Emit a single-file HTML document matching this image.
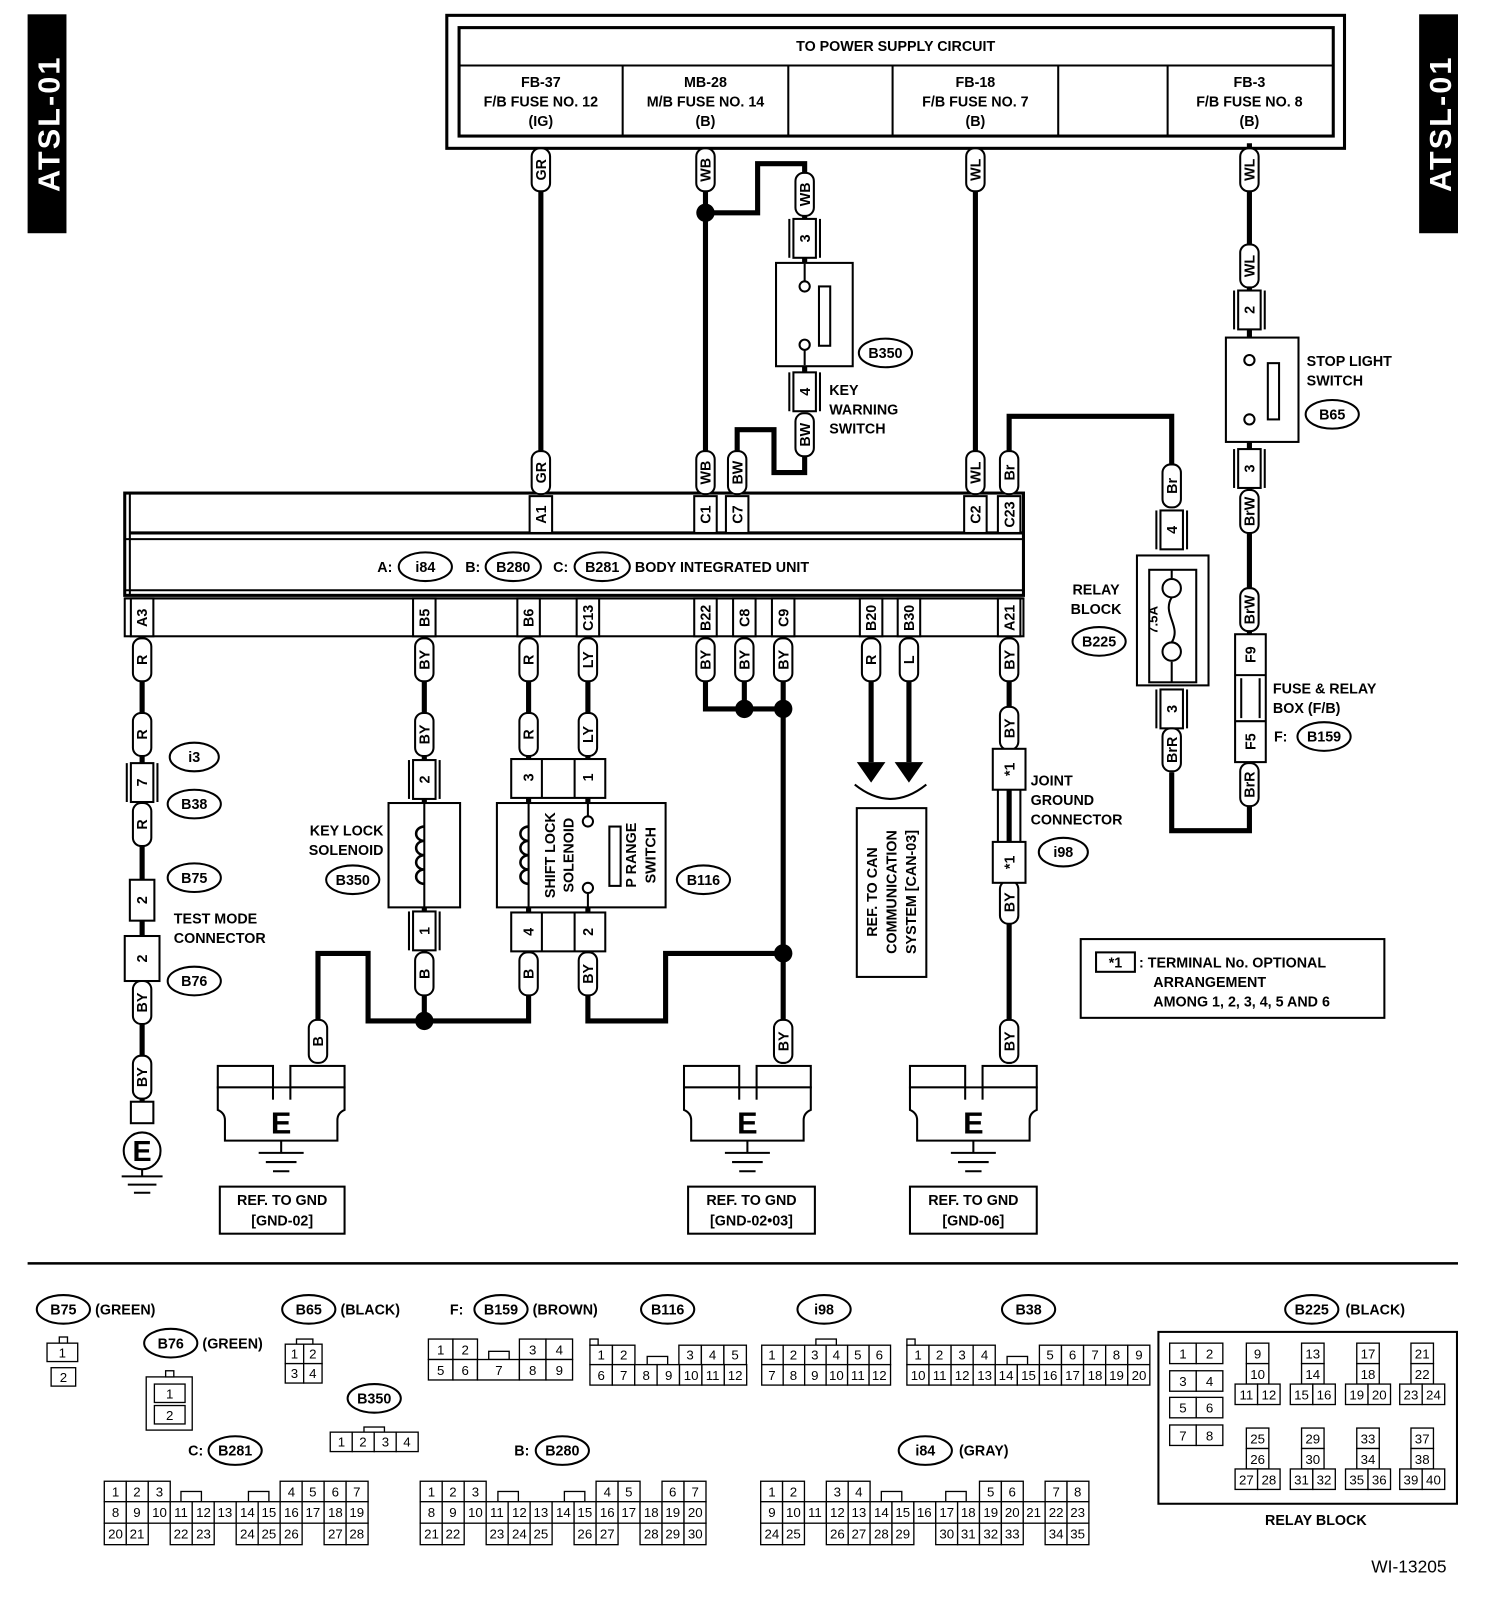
<!DOCTYPE html>
<html><head><meta charset="utf-8"><style>
html,body{margin:0;padding:0;background:#fff}
svg{display:block}
text{font-family:"Liberation Sans",sans-serif;font-weight:bold;font-size:14px;fill:#000}
.w{fill:none;stroke:#000;stroke-width:5}
.b{fill:#fff;stroke:#000;stroke-width:2}
.t{fill:#fff;stroke:#000;stroke-width:2}
.c text{font-weight:normal;font-size:13px;text-anchor:middle}
.c rect{fill:#fff;stroke:#000;stroke-width:1.3}
.m{text-anchor:middle}
</style></head><body>
<svg width="1504" height="1604" viewBox="0 0 1471 1568" preserveAspectRatio="none" xmlns="http://www.w3.org/2000/svg">
<defs>
<g id="tg"><rect class="t" x="-9" y="-21" width="18" height="42" rx="8"/></g>
<g id="pn"><rect class="b" x="-11" y="-19" width="22" height="38"/><line x1="-15" y1="-19" x2="-15" y2="19" stroke="#000" stroke-width="2"/><line x1="15" y1="-19" x2="15" y2="19" stroke="#000" stroke-width="2"/></g>
</defs>
<rect x="27" y="14" width="38" height="214" fill="#000"/>
<text transform="translate(58,121) rotate(-90)" class="m" style="fill:#fff;font-size:30px;letter-spacing:2px">ATSL-01</text>
<rect x="1388" y="14" width="38" height="214" fill="#000"/>
<text transform="translate(1419,121) rotate(-90)" class="m" style="fill:#fff;font-size:30px;letter-spacing:2px">ATSL-01</text>

<rect x="437" y="15" width="878" height="130" fill="none" stroke="#000" stroke-width="3"/>
<rect x="449" y="27" width="855" height="106" fill="none" stroke="#000" stroke-width="3"/>
<line x1="449" y1="64" x2="1304" y2="64" stroke="#000" stroke-width="2"/>
<g stroke="#000" stroke-width="2"><line x1="609" y1="64" x2="609" y2="133"/><line x1="771" y1="64" x2="771" y2="133"/><line x1="873" y1="64" x2="873" y2="133"/><line x1="1035" y1="64" x2="1035" y2="133"/><line x1="1142" y1="64" x2="1142" y2="133"/></g>
<g class="m" style="font-size:13px">
<text x="876" y="50">TO POWER SUPPLY CIRCUIT</text>
<text x="529" y="85">FB-37</text><text x="529" y="104">F/B FUSE NO. 12</text><text x="529" y="123">(IG)</text>
<text x="690" y="85">MB-28</text><text x="690" y="104">M/B FUSE NO. 14</text><text x="690" y="123">(B)</text>
<text x="954" y="85">FB-18</text><text x="954" y="104">F/B FUSE NO. 7</text><text x="954" y="123">(B)</text>
<text x="1222" y="85">FB-3</text><text x="1222" y="104">F/B FUSE NO. 8</text><text x="1222" y="123">(B)</text>
</g>

<g class="w">
<path d="M529 145V485"/><path d="M690 145V485"/><path d="M690 208H741V160H787V215"/>
<path d="M787 250V260M787 358V365"/><path d="M787 445V462H757V420H721V442"/>
<path d="M954 145V485"/><path d="M987 442V407H1146V455"/>
<path d="M1146 755V812H1222V140"/>
<path d="M139 620V860M139 900V915M139 958V1077"/>
<path d="M415 620V998"/><path d="M311 1000V932H360V998H517V620"/>
<path d="M575 620V998H651V932H766"/>
<path d="M690 620V693H766"/><path d="M728 620V693"/><path d="M766 620V1040"/>
<path d="M852 620V745"/><path d="M889 620V745"/>
<path d="M987 620V1040"/>
</g>
<g fill="#000"><circle cx="690" cy="208" r="9"/><circle cx="415" cy="998" r="9"/><circle cx="728" cy="693" r="9"/><circle cx="766" cy="693" r="9"/><circle cx="766" cy="932" r="9"/>
<path d="M838 745h28l-14 20z"/><path d="M875 745h28l-14 20z"/></g>
<path d="M836 767Q871 795 906 767" fill="none" stroke="#000" stroke-width="2"/>

<rect class="b" x="759" y="257" width="75" height="101"/>
<circle cx="787" cy="280" r="5" class="b"/><circle cx="787" cy="337" r="5" class="b"/>
<rect class="b" x="801" y="280" width="11" height="58"/>
<line x1="787" y1="258" x2="787" y2="275" stroke="#000" stroke-width="2"/><line x1="787" y1="342" x2="787" y2="357" stroke="#000" stroke-width="2"/>
<rect class="b" x="1199" y="330" width="71" height="102"/>
<circle cx="1222" cy="352" r="5" class="b"/><circle cx="1222" cy="410" r="5" class="b"/>
<rect class="b" x="1240" y="355" width="11" height="55"/>
<rect class="b" x="1112" y="543" width="70" height="127"/>
<rect class="b" x="1124" y="557" width="46" height="110"/>
<path d="M1146 557V565M1146 647V667" stroke="#000" stroke-width="2"/>
<circle cx="1146" cy="575" r="9" class="b"/><circle cx="1146" cy="637" r="9" class="b"/>
<path d="M1146 584C1136 600 1156 612 1146 628" fill="none" stroke="#000" stroke-width="2"/>
<text transform="translate(1132,606) rotate(-90)" class="m" style="font-size:13px">7.5A</text>
<rect class="b" x="1208" y="620" width="30" height="125"/>
<line x1="1208" y1="660" x2="1238" y2="660" stroke="#000" stroke-width="2"/><line x1="1208" y1="705" x2="1238" y2="705" stroke="#000" stroke-width="2"/>
<line x1="1214" y1="663" x2="1214" y2="702" stroke="#000" stroke-width="2"/><line x1="1232" y1="663" x2="1232" y2="702" stroke="#000" stroke-width="2"/>
<g transform="translate(1223,640)"><text transform="rotate(-90)" class="m" y="5">F9</text></g>
<g transform="translate(1223,725)"><text transform="rotate(-90)" class="m" y="5">F5</text></g>

<rect x="122" y="482" width="879" height="100" fill="#fff" stroke="#000" stroke-width="3"/>
<line x1="127" y1="482" x2="127" y2="582" stroke="#000" stroke-width="2"/>
<line x1="127" y1="521" x2="1001" y2="521" stroke="#000" stroke-width="3"/>
<line x1="122" y1="527" x2="1001" y2="527" stroke="#000" stroke-width="2"/>
<line x1="122" y1="577" x2="1001" y2="577" stroke="#000" stroke-width="2"/>
<line x1="122" y1="585" x2="1001" y2="585" stroke="#000" stroke-width="2"/>
<rect x="122" y="585" width="879" height="37" fill="none" stroke="#000" stroke-width="2"/>
<text x="369" y="559">A:</text><ellipse class="b" cx="416" cy="554" rx="26" ry="14"/><text x="416" y="559" class="m">i84</text>
<text x="455" y="559">B:</text><ellipse class="b" cx="502" cy="554" rx="27" ry="14"/><text x="502" y="559" class="m">B280</text>
<text x="541" y="559">C:</text><ellipse class="b" cx="589" cy="554" rx="27" ry="14"/><text x="589" y="559" class="m">B281</text>
<text x="621" y="559">BODY INTEGRATED UNIT</text>

<g>
<g transform="translate(529,503)"><rect class="b" x="-11" y="-18" width="22" height="36"/><text transform="rotate(-90)" class="m" y="5">A1</text></g>
<g transform="translate(690,503)"><rect class="b" x="-11" y="-18" width="22" height="36"/><text transform="rotate(-90)" class="m" y="5">C1</text></g>
<g transform="translate(721,503)"><rect class="b" x="-11" y="-18" width="22" height="36"/><text transform="rotate(-90)" class="m" y="5">C7</text></g>
<g transform="translate(954,503)"><rect class="b" x="-11" y="-18" width="22" height="36"/><text transform="rotate(-90)" class="m" y="5">C2</text></g>
<g transform="translate(987,503)"><rect class="b" x="-11" y="-18" width="22" height="36"/><text transform="rotate(-90)" class="m" y="5">C23</text></g>
</g>
<g>
<g transform="translate(139,604)"><rect class="b" x="-11" y="-19" width="22" height="37"/><text transform="rotate(-90)" class="m" y="5">A3</text></g>
<g transform="translate(415,604)"><rect class="b" x="-11" y="-19" width="22" height="37"/><text transform="rotate(-90)" class="m" y="5">B5</text></g>
<g transform="translate(517,604)"><rect class="b" x="-11" y="-19" width="22" height="37"/><text transform="rotate(-90)" class="m" y="5">B6</text></g>
<g transform="translate(575,604)"><rect class="b" x="-11" y="-19" width="22" height="37"/><text transform="rotate(-90)" class="m" y="5">C13</text></g>
<g transform="translate(690,604)"><rect class="b" x="-11" y="-19" width="22" height="37"/><text transform="rotate(-90)" class="m" y="5">B22</text></g>
<g transform="translate(728,604)"><rect class="b" x="-11" y="-19" width="22" height="37"/><text transform="rotate(-90)" class="m" y="5">C8</text></g>
<g transform="translate(766,604)"><rect class="b" x="-11" y="-19" width="22" height="37"/><text transform="rotate(-90)" class="m" y="5">C9</text></g>
<g transform="translate(852,604)"><rect class="b" x="-11" y="-19" width="22" height="37"/><text transform="rotate(-90)" class="m" y="5">B20</text></g>
<g transform="translate(889,604)"><rect class="b" x="-11" y="-19" width="22" height="37"/><text transform="rotate(-90)" class="m" y="5">B30</text></g>
<g transform="translate(987,604)"><rect class="b" x="-11" y="-19" width="22" height="37"/><text transform="rotate(-90)" class="m" y="5">A21</text></g>
</g>

<g>
<g transform="translate(529,166)"><use href="#tg"/><text transform="rotate(-90)" class="m" y="5">GR</text></g>
<g transform="translate(690,166)"><use href="#tg"/><text transform="rotate(-90)" class="m" y="5">WB</text></g>
<g transform="translate(954,166)"><use href="#tg"/><text transform="rotate(-90)" class="m" y="5">WL</text></g>
<g transform="translate(1222,166)"><use href="#tg"/><text transform="rotate(-90)" class="m" y="5">WL</text></g>
<g transform="translate(529,462)"><use href="#tg"/><text transform="rotate(-90)" class="m" y="5">GR</text></g>
<g transform="translate(690,462)"><use href="#tg"/><text transform="rotate(-90)" class="m" y="5">WB</text></g>
<g transform="translate(721,462)"><use href="#tg"/><text transform="rotate(-90)" class="m" y="5">BW</text></g>
<g transform="translate(954,462)"><use href="#tg"/><text transform="rotate(-90)" class="m" y="5">WL</text></g>
<g transform="translate(987,462)"><use href="#tg"/><text transform="rotate(-90)" class="m" y="5">Br</text></g>
<g transform="translate(787,190)"><use href="#tg"/><text transform="rotate(-90)" class="m" y="5">WB</text></g>
<g transform="translate(787,233)"><use href="#pn"/><text transform="rotate(-90)" class="m" y="5">3</text></g>
<g transform="translate(787,383)"><use href="#pn"/><text transform="rotate(-90)" class="m" y="5">4</text></g>
<g transform="translate(787,425)"><use href="#tg"/><text transform="rotate(-90)" class="m" y="5">BW</text></g>
<g transform="translate(1222,260)"><use href="#tg"/><text transform="rotate(-90)" class="m" y="5">WL</text></g>
<g transform="translate(1222,303)"><use href="#pn"/><text transform="rotate(-90)" class="m" y="5">2</text></g>
<g transform="translate(1222,458)"><use href="#pn"/><text transform="rotate(-90)" class="m" y="5">3</text></g>
<g transform="translate(1222,500)"><use href="#tg"/><text transform="rotate(-90)" class="m" y="5">BrW</text></g>
<g transform="translate(1222,596)"><use href="#tg"/><text transform="rotate(-90)" class="m" y="5">BrW</text></g>
<g transform="translate(1222,767)"><use href="#tg"/><text transform="rotate(-90)" class="m" y="5">BrR</text></g>
<g transform="translate(1146,475)"><use href="#tg"/><text transform="rotate(-90)" class="m" y="5">Br</text></g>
<g transform="translate(1146,518)"><use href="#pn"/><text transform="rotate(-90)" class="m" y="5">4</text></g>
<g transform="translate(1146,693)"><use href="#pn"/><text transform="rotate(-90)" class="m" y="5">3</text></g>
<g transform="translate(1146,733)"><use href="#tg"/><text transform="rotate(-90)" class="m" y="5">BrR</text></g>

<g transform="translate(139,645)"><use href="#tg"/><text transform="rotate(-90)" class="m" y="5">R</text></g>
<g transform="translate(415,645)"><use href="#tg"/><text transform="rotate(-90)" class="m" y="5">BY</text></g>
<g transform="translate(517,645)"><use href="#tg"/><text transform="rotate(-90)" class="m" y="5">R</text></g>
<g transform="translate(575,645)"><use href="#tg"/><text transform="rotate(-90)" class="m" y="5">LY</text></g>
<g transform="translate(690,645)"><use href="#tg"/><text transform="rotate(-90)" class="m" y="5">BY</text></g>
<g transform="translate(728,645)"><use href="#tg"/><text transform="rotate(-90)" class="m" y="5">BY</text></g>
<g transform="translate(766,645)"><use href="#tg"/><text transform="rotate(-90)" class="m" y="5">BY</text></g>
<g transform="translate(852,645)"><use href="#tg"/><text transform="rotate(-90)" class="m" y="5">R</text></g>
<g transform="translate(889,645)"><use href="#tg"/><text transform="rotate(-90)" class="m" y="5">L</text></g>
<g transform="translate(987,645)"><use href="#tg"/><text transform="rotate(-90)" class="m" y="5">BY</text></g>

<g transform="translate(139,718)"><use href="#tg"/><text transform="rotate(-90)" class="m" y="5">R</text></g>
<g transform="translate(139,765)"><use href="#pn"/><text transform="rotate(-90)" class="m" y="5">7</text></g>
<g transform="translate(139,806)"><use href="#tg"/><text transform="rotate(-90)" class="m" y="5">R</text></g>
<g transform="translate(139,880)"><rect class="b" x="-12" y="-20" width="24" height="40"/><text transform="rotate(-90)" class="m" y="5">2</text></g>
<g transform="translate(139,937)"><rect class="b" x="-17" y="-22" width="34" height="44"/><text transform="rotate(-90)" class="m" y="5">2</text></g>
<g transform="translate(139,980)"><use href="#tg"/><text transform="rotate(-90)" class="m" y="5">BY</text></g>
<g transform="translate(139,1053)"><use href="#tg"/><text transform="rotate(-90)" class="m" y="5">BY</text></g>
<rect class="b" x="128" y="1077" width="22" height="21"/>
<circle cx="139" cy="1125" r="18" class="b" stroke-width="3"/><text x="139" y="1135" class="m" style="font-size:28px">E</text>
<g stroke="#000" stroke-width="2"><line x1="139" y1="1143" x2="139" y2="1150"/><line x1="119" y1="1150" x2="159" y2="1150"/><line x1="125" y1="1158" x2="153" y2="1158"/><line x1="131" y1="1166" x2="147" y2="1166"/></g>

<g transform="translate(415,718)"><use href="#tg"/><text transform="rotate(-90)" class="m" y="5">BY</text></g>
<g transform="translate(415,762)"><use href="#pn"/><text transform="rotate(-90)" class="m" y="5">2</text></g>
<g transform="translate(415,910)"><use href="#pn"/><text transform="rotate(-90)" class="m" y="5">1</text></g>
<g transform="translate(415,952)"><use href="#tg"/><text transform="rotate(-90)" class="m" y="5">B</text></g>
<g transform="translate(517,718)"><use href="#tg"/><text transform="rotate(-90)" class="m" y="5">R</text></g>
<g transform="translate(575,718)"><use href="#tg"/><text transform="rotate(-90)" class="m" y="5">LY</text></g>
<rect class="b" x="500" y="742" width="92" height="38"/><line x1="530" y1="742" x2="530" y2="780" stroke="#000" stroke-width="2"/><line x1="562" y1="742" x2="562" y2="780" stroke="#000" stroke-width="2"/>
<text transform="translate(522,760) rotate(-90)" class="m">3</text><text transform="translate(580,760) rotate(-90)" class="m">1</text>
<rect class="b" x="500" y="892" width="92" height="38"/><line x1="530" y1="892" x2="530" y2="930" stroke="#000" stroke-width="2"/><line x1="562" y1="892" x2="562" y2="930" stroke="#000" stroke-width="2"/>
<text transform="translate(522,911) rotate(-90)" class="m">4</text><text transform="translate(580,911) rotate(-90)" class="m">2</text>
<g transform="translate(517,952)"><use href="#tg"/><text transform="rotate(-90)" class="m" y="5">B</text></g>
<g transform="translate(575,952)"><use href="#tg"/><text transform="rotate(-90)" class="m" y="5">BY</text></g>
<g transform="translate(311,1018)"><use href="#tg"/><text transform="rotate(-90)" class="m" y="5">B</text></g>
<g transform="translate(766,1018)"><use href="#tg"/><text transform="rotate(-90)" class="m" y="5">BY</text></g>
<g transform="translate(987,1018)"><use href="#tg"/><text transform="rotate(-90)" class="m" y="5">BY</text></g>
<g transform="translate(987,712)"><use href="#tg"/><text transform="rotate(-90)" class="m" y="5">BY</text></g>
<g transform="translate(987,882)"><use href="#tg"/><text transform="rotate(-90)" class="m" y="5">BY</text></g>
<rect class="b" x="971" y="732" width="32" height="40"/><text transform="translate(992,752) rotate(-90)" class="m">*1</text>
<rect class="b" x="971" y="823" width="32" height="40"/><text transform="translate(992,843) rotate(-90)" class="m">*1</text>
<line x1="976" y1="772" x2="976" y2="823" stroke="#000" stroke-width="2"/><line x1="998" y1="772" x2="998" y2="823" stroke="#000" stroke-width="2"/>
</g>

<rect class="b" x="380" y="785" width="70" height="102"/>
<line x1="415" y1="785" x2="415" y2="887" stroke="#000" stroke-width="2"/>
<g fill="none" stroke="#000" stroke-width="2.5"><path d="M415 808a8 7 0 1 0 0 14a8 7 0 1 0 0 14a8 7 0 1 0 0 14a8 7 0 1 0 0 14"/></g>
<rect class="b" x="486" y="785" width="165" height="102"/>
<line x1="517" y1="785" x2="517" y2="887" stroke="#000" stroke-width="2"/>
<g fill="none" stroke="#000" stroke-width="2.5"><path d="M517 808a8 7 0 1 0 0 14a8 7 0 1 0 0 14a8 7 0 1 0 0 14a8 7 0 1 0 0 14"/></g>
<line x1="575" y1="785" x2="575" y2="798" stroke="#000" stroke-width="2"/><line x1="575" y1="873" x2="575" y2="887" stroke="#000" stroke-width="2"/>
<circle cx="575" cy="803" r="5" class="b"/><circle cx="575" cy="868" r="5" class="b"/>
<rect class="b" x="596" y="808" width="11" height="58"/>
<g style="font-size:13px"><text transform="translate(543,836) rotate(-90)" class="m">SHIFT LOCK</text><text transform="translate(561,836) rotate(-90)" class="m">SOLENOID</text>
<text transform="translate(622,836) rotate(-90)" class="m">P RANGE</text><text transform="translate(641,836) rotate(-90)" class="m">SWITCH</text></g>

<g id="gnd">
<rect class="b" x="213" y="1042" width="54" height="21"/><rect class="b" x="284" y="1042" width="53" height="21"/>
<path d="M213 1063H337V1085Q330 1088 330 1095V1115H220V1095Q220 1088 213 1085Z" class="b" stroke-width="2.5"/>
<line x1="267" y1="1063" x2="267" y2="1075" stroke="#000" stroke-width="2"/><line x1="284" y1="1063" x2="284" y2="1075" stroke="#000" stroke-width="2"/>
<text x="275" y="1108" class="m" style="font-size:30px">E</text>
<g stroke="#000" stroke-width="2"><line x1="275" y1="1115" x2="275" y2="1127"/><line x1="253" y1="1127" x2="297" y2="1127"/><line x1="260" y1="1136" x2="290" y2="1136"/><line x1="267" y1="1145" x2="283" y2="1145"/></g>
</g>
<use href="#gnd" x="456" y="0"/>
<use href="#gnd" x="677" y="0"/>
<g class="b"><rect x="215" y="1160" width="122" height="46"/><rect x="673" y="1160" width="124" height="46"/><rect x="890" y="1160" width="124" height="46"/></g>
<g class="m" style="font-size:13px">
<text x="276" y="1178">REF. TO GND</text><text x="276" y="1198">[GND-02]</text>
<text x="735" y="1178">REF. TO GND</text><text x="735" y="1198">[GND-02•03]</text>
<text x="952" y="1178">REF. TO GND</text><text x="952" y="1198">[GND-06]</text>
</g>

<rect class="b" x="838" y="790" width="68" height="165"/>
<g class="m" style="font-size:13px"><text transform="translate(858,872) rotate(-90)">REF. TO CAN</text><text transform="translate(877,872) rotate(-90)">COMMUNICATION</text><text transform="translate(896,872) rotate(-90)">SYSTEM [CAN-03]</text></g>

<rect class="b" x="1057" y="918" width="297" height="77"/>
<rect class="b" x="1072" y="931" width="38" height="19"/><text x="1091" y="946" class="m">*1</text>
<g style="font-size:13.5px"><text x="1114" y="946">: TERMINAL No. OPTIONAL</text><text x="1128" y="965">ARRANGEMENT</text><text x="1128" y="984">AMONG 1, 2, 3, 4, 5 AND 6</text></g>

<g style="font-size:14px">
<text x="811" y="386">KEY</text><text x="811" y="405">WARNING</text><text x="811" y="424">SWITCH</text>
<text x="1278" y="358">STOP LIGHT</text><text x="1278" y="377">SWITCH</text>
<text x="1072" y="581" class="m">RELAY</text><text x="1072" y="600" class="m">BLOCK</text>
<text x="1245" y="678">FUSE &amp; RELAY</text><text x="1245" y="697">BOX (F/B)</text><text x="1246" y="725">F:</text>
<text x="375" y="817" style="text-anchor:end">KEY LOCK</text><text x="375" y="836" style="text-anchor:end">SOLENOID</text>
<text x="170" y="903">TEST MODE</text><text x="170" y="922">CONNECTOR</text>
<text x="1008" y="768">JOINT</text><text x="1008" y="787">GROUND</text><text x="1008" y="806">CONNECTOR</text>
</g>
<g>
<ellipse class="b" cx="866" cy="345" rx="26" ry="14"/><text x="866" y="350" class="m">B350</text>
<ellipse class="b" cx="1303" cy="405" rx="26" ry="14"/><text x="1303" y="410" class="m">B65</text>
<ellipse class="b" cx="1075" cy="627" rx="26" ry="14"/><text x="1075" y="632" class="m">B225</text>
<ellipse class="b" cx="1295" cy="720" rx="26" ry="14"/><text x="1295" y="725" class="m">B159</text>
<ellipse class="b" cx="345" cy="860" rx="26" ry="14"/><text x="345" y="865" class="m">B350</text>
<ellipse class="b" cx="688" cy="860" rx="26" ry="14"/><text x="688" y="865" class="m">B116</text>
<ellipse class="b" cx="1040" cy="833" rx="24" ry="14"/><text x="1040" y="838" class="m">i98</text>
<ellipse class="b" cx="190" cy="740" rx="24" ry="14"/><text x="190" y="745" class="m">i3</text>
<ellipse class="b" cx="190" cy="786" rx="26" ry="14"/><text x="190" y="791" class="m">B38</text>
<ellipse class="b" cx="190" cy="858" rx="26" ry="14"/><text x="190" y="863" class="m">B75</text>
<ellipse class="b" cx="190" cy="959" rx="26" ry="14"/><text x="190" y="964" class="m">B76</text>
</g>

<line x1="27" y1="1235" x2="1426" y2="1235" stroke="#000" stroke-width="2.5"/>

<g>
<ellipse class="b" cx="62" cy="1280" rx="26" ry="14"/><text x="62" y="1285" class="m">B75</text><text x="93" y="1285">(GREEN)</text>
<ellipse class="b" cx="167" cy="1313" rx="26" ry="14"/><text x="167" y="1318" class="m">B76</text><text x="198" y="1318">(GREEN)</text>
<ellipse class="b" cx="302" cy="1280" rx="26" ry="14"/><text x="302" y="1285" class="m">B65</text><text x="333" y="1285">(BLACK)</text>
<text x="440" y="1285">F:</text><ellipse class="b" cx="490" cy="1280" rx="26" ry="14"/><text x="490" y="1285" class="m">B159</text><text x="521" y="1285">(BROWN)</text>
<ellipse class="b" cx="653" cy="1280" rx="26" ry="14"/><text x="653" y="1285" class="m">B116</text>
<ellipse class="b" cx="806" cy="1280" rx="26" ry="14"/><text x="806" y="1285" class="m">i98</text>
<ellipse class="b" cx="1006" cy="1280" rx="26" ry="14"/><text x="1006" y="1285" class="m">B38</text>
<ellipse class="b" cx="1283" cy="1280" rx="26" ry="14"/><text x="1283" y="1285" class="m">B225</text><text x="1316" y="1285">(BLACK)</text>
<ellipse class="b" cx="366" cy="1367" rx="26" ry="14"/><text x="366" y="1372" class="m">B350</text>
<text x="184" y="1423">C:</text><ellipse class="b" cx="230" cy="1418" rx="26" ry="14"/><text x="230" y="1423" class="m">B281</text>
<text x="503" y="1423">B:</text><ellipse class="b" cx="550" cy="1418" rx="26" ry="14"/><text x="550" y="1423" class="m">B280</text>
<ellipse class="b" cx="905" cy="1418" rx="26" ry="14"/><text x="905" y="1423" class="m">i84</text><text x="938" y="1423">(GRAY)</text>
<text x="1287" y="1491" class="m">RELAY BLOCK</text>
<text x="1378" y="1537" class="m" style="font-weight:normal;font-size:17px">WI-13205</text>
</g>

<g class="c">
<rect x="58" y="1307" width="8" height="6"/>
<rect x="46" y="1313" width="30" height="18"/><text x="61" y="1327">1</text>
<rect x="50" y="1337" width="24" height="18"/><text x="62" y="1351">2</text>
<rect x="143" y="1346" width="45" height="52"/><rect x="162" y="1340" width="8" height="6"/>
<rect x="151" y="1353" width="30" height="18"/><text x="166" y="1367">1</text>
<rect x="151" y="1374" width="30" height="18"/><text x="166" y="1388">2</text>
<rect x="290" y="1309" width="16" height="5"/>
<rect x="279" y="1314" width="18" height="19"/><text x="288" y="1328">1</text><rect x="297" y="1314" width="18" height="19"/><text x="306" y="1328">2</text>
<rect x="279" y="1333" width="18" height="19"/><text x="288" y="1347">3</text><rect x="297" y="1333" width="18" height="19"/><text x="306" y="1347">4</text>
<rect x="356" y="1395" width="20" height="5"/>
<rect x="323" y="1400" width="21.5" height="19"/><text x="334" y="1414">1</text><rect x="344.5" y="1400" width="21.5" height="19"/><text x="355" y="1414">2</text><rect x="366" y="1400" width="21.5" height="19"/><text x="377" y="1414">3</text><rect x="387.5" y="1400" width="21.5" height="19"/><text x="398" y="1414">4</text>
<rect x="419" y="1309" width="24" height="20"/><text x="431" y="1324">1</text><rect x="443" y="1309" width="24" height="20"/><text x="455" y="1324">2</text>
<rect x="478" y="1321" width="20" height="8"/>
<rect x="508" y="1309" width="26" height="20"/><text x="521" y="1324">3</text><rect x="534" y="1309" width="26" height="20"/><text x="547" y="1324">4</text>
<rect x="419" y="1329" width="24" height="20"/><text x="431" y="1344">5</text><rect x="443" y="1329" width="24" height="20"/><text x="455" y="1344">6</text><rect x="467" y="1329" width="41" height="20"/><text x="488" y="1344">7</text><rect x="508" y="1329" width="26" height="20"/><text x="521" y="1344">8</text><rect x="534" y="1329" width="26" height="20"/><text x="547" y="1344">9</text>
<rect x="577" y="1309" width="8" height="6"/>
<rect x="577" y="1315" width="22" height="19"/><text x="588" y="1329">1</text><rect x="599" y="1315" width="22" height="19"/><text x="610" y="1329">2</text>
<rect x="633" y="1326" width="20" height="8"/>
<rect x="664" y="1315" width="22" height="19"/><text x="675" y="1329">3</text><rect x="686" y="1315" width="22" height="19"/><text x="697" y="1329">4</text><rect x="708" y="1315" width="22" height="19"/><text x="719" y="1329">5</text>
<rect x="577" y="1334" width="21.9" height="20"/><text x="588" y="1349">6</text><rect x="598.9" y="1334" width="21.9" height="20"/><text x="610" y="1349">7</text><rect x="620.8" y="1334" width="21.9" height="20"/><text x="632" y="1349">8</text><rect x="642.7" y="1334" width="21.9" height="20"/><text x="654" y="1349">9</text><rect x="664.6" y="1334" width="21.9" height="20"/><text x="676" y="1349">10</text><rect x="686.5" y="1334" width="21.9" height="20"/><text x="697" y="1349">11</text><rect x="708.4" y="1334" width="21.9" height="20"/><text x="719" y="1349">12</text>
<rect x="798" y="1309" width="20" height="6"/>
<rect x="745" y="1315" width="21" height="19"/><text x="755" y="1329">1</text><rect x="766" y="1315" width="21" height="19"/><text x="776" y="1329">2</text><rect x="787" y="1315" width="21" height="19"/><text x="797" y="1329">3</text><rect x="808" y="1315" width="21" height="19"/><text x="818" y="1329">4</text><rect x="829" y="1315" width="21" height="19"/><text x="839" y="1329">5</text><rect x="850" y="1315" width="21" height="19"/><text x="860" y="1329">6</text>
<rect x="745" y="1334" width="21" height="20"/><text x="755" y="1349">7</text><rect x="766" y="1334" width="21" height="20"/><text x="776" y="1349">8</text><rect x="787" y="1334" width="21" height="20"/><text x="797" y="1349">9</text><rect x="808" y="1334" width="21" height="20"/><text x="818" y="1349">10</text><rect x="829" y="1334" width="21" height="20"/><text x="839" y="1349">11</text><rect x="850" y="1334" width="21" height="20"/><text x="860" y="1349">12</text>
<rect x="887" y="1309" width="8" height="6"/>
<rect x="887" y="1315" width="21.6" height="19"/><text x="898" y="1329">1</text><rect x="908.6" y="1315" width="21.6" height="19"/><text x="919" y="1329">2</text><rect x="930.2" y="1315" width="21.6" height="19"/><text x="941" y="1329">3</text><rect x="951.8" y="1315" width="21.6" height="19"/><text x="963" y="1329">4</text>
<rect x="985" y="1326" width="20" height="8"/>
<rect x="1016.6" y="1315" width="21.6" height="19"/><text x="1027" y="1329">5</text><rect x="1038.2" y="1315" width="21.6" height="19"/><text x="1049" y="1329">6</text><rect x="1059.8" y="1315" width="21.6" height="19"/><text x="1071" y="1329">7</text><rect x="1081.4" y="1315" width="21.6" height="19"/><text x="1092" y="1329">8</text><rect x="1103" y="1315" width="21.6" height="19"/><text x="1114" y="1329">9</text>
<rect x="887" y="1334" width="21.6" height="20"/><text x="898" y="1349">10</text><rect x="908.6" y="1334" width="21.6" height="20"/><text x="919" y="1349">11</text><rect x="930.2" y="1334" width="21.6" height="20"/><text x="941" y="1349">12</text><rect x="951.8" y="1334" width="21.6" height="20"/><text x="963" y="1349">13</text><rect x="973.4" y="1334" width="21.6" height="20"/><text x="984" y="1349">14</text><rect x="995" y="1334" width="21.6" height="20"/><text x="1006" y="1349">15</text><rect x="1016.6" y="1334" width="21.6" height="20"/><text x="1027" y="1349">16</text><rect x="1038.2" y="1334" width="21.6" height="20"/><text x="1049" y="1349">17</text><rect x="1059.8" y="1334" width="21.6" height="20"/><text x="1071" y="1349">18</text><rect x="1081.4" y="1334" width="21.6" height="20"/><text x="1092" y="1349">19</text><rect x="1103" y="1334" width="21.6" height="20"/><text x="1114" y="1349">20</text>

<rect x="1133" y="1302" width="292" height="168" style="stroke-width:2"/>
<rect x="1144" y="1313" width="26" height="20"/><text x="1157" y="1328">1</text><rect x="1170" y="1313" width="26" height="20"/><text x="1183" y="1328">2</text>
<rect x="1144" y="1340" width="26" height="20"/><text x="1157" y="1355">3</text><rect x="1170" y="1340" width="26" height="20"/><text x="1183" y="1355">4</text>
<rect x="1144" y="1366" width="26" height="20"/><text x="1157" y="1381">5</text><rect x="1170" y="1366" width="26" height="20"/><text x="1183" y="1381">6</text>
<rect x="1144" y="1393" width="26" height="20"/><text x="1157" y="1408">7</text><rect x="1170" y="1393" width="26" height="20"/><text x="1183" y="1408">8</text>
<rect x="1219" y="1313" width="22" height="20"/><text x="1230" y="1328">9</text><rect x="1219" y="1333" width="22" height="20"/><text x="1230" y="1348">10</text><rect x="1208" y="1353" width="22" height="20"/><text x="1219" y="1368">11</text><rect x="1230" y="1353" width="22" height="20"/><text x="1241" y="1368">12</text>
<rect x="1273" y="1313" width="22" height="20"/><text x="1284" y="1328">13</text><rect x="1273" y="1333" width="22" height="20"/><text x="1284" y="1348">14</text><rect x="1262" y="1353" width="22" height="20"/><text x="1273" y="1368">15</text><rect x="1284" y="1353" width="22" height="20"/><text x="1295" y="1368">16</text>
<rect x="1327" y="1313" width="22" height="20"/><text x="1338" y="1328">17</text><rect x="1327" y="1333" width="22" height="20"/><text x="1338" y="1348">18</text><rect x="1316" y="1353" width="22" height="20"/><text x="1327" y="1368">19</text><rect x="1338" y="1353" width="22" height="20"/><text x="1349" y="1368">20</text>
<rect x="1380" y="1313" width="22" height="20"/><text x="1391" y="1328">21</text><rect x="1380" y="1333" width="22" height="20"/><text x="1391" y="1348">22</text><rect x="1369" y="1353" width="22" height="20"/><text x="1380" y="1368">23</text><rect x="1391" y="1353" width="22" height="20"/><text x="1402" y="1368">24</text>
<rect x="1219" y="1396" width="22" height="20"/><text x="1230" y="1411">25</text><rect x="1219" y="1416" width="22" height="20"/><text x="1230" y="1431">26</text><rect x="1208" y="1436" width="22" height="20"/><text x="1219" y="1451">27</text><rect x="1230" y="1436" width="22" height="20"/><text x="1241" y="1451">28</text>
<rect x="1273" y="1396" width="22" height="20"/><text x="1284" y="1411">29</text><rect x="1273" y="1416" width="22" height="20"/><text x="1284" y="1431">30</text><rect x="1262" y="1436" width="22" height="20"/><text x="1273" y="1451">31</text><rect x="1284" y="1436" width="22" height="20"/><text x="1295" y="1451">32</text>
<rect x="1327" y="1396" width="22" height="20"/><text x="1338" y="1411">33</text><rect x="1327" y="1416" width="22" height="20"/><text x="1338" y="1431">34</text><rect x="1316" y="1436" width="22" height="20"/><text x="1327" y="1451">35</text><rect x="1338" y="1436" width="22" height="20"/><text x="1349" y="1451">36</text>
<rect x="1380" y="1396" width="22" height="20"/><text x="1391" y="1411">37</text><rect x="1380" y="1416" width="22" height="20"/><text x="1391" y="1431">38</text><rect x="1369" y="1436" width="22" height="20"/><text x="1380" y="1451">39</text><rect x="1391" y="1436" width="22" height="20"/><text x="1402" y="1451">40</text>

<rect x="102" y="1448" width="21.5" height="20"/><text x="113" y="1463">1</text><rect x="123.5" y="1448" width="21.5" height="20"/><text x="134" y="1463">2</text><rect x="145" y="1448" width="21.5" height="20"/><text x="156" y="1463">3</text>
<rect x="177" y="1458" width="20" height="10"/><rect x="243" y="1458" width="20" height="10"/>
<rect x="274" y="1448" width="21.5" height="20"/><text x="285" y="1463">4</text><rect x="295.5" y="1448" width="21.5" height="20"/><text x="306" y="1463">5</text><rect x="317" y="1448" width="21.5" height="20"/><text x="328" y="1463">6</text><rect x="338.5" y="1448" width="21.5" height="20"/><text x="349" y="1463">7</text>
<rect x="102" y="1468" width="21.5" height="21"/><text x="113" y="1483">8</text><rect x="123.5" y="1468" width="21.5" height="21"/><text x="134" y="1483">9</text><rect x="145" y="1468" width="21.5" height="21"/><text x="156" y="1483">10</text><rect x="166.5" y="1468" width="21.5" height="21"/><text x="177" y="1483">11</text><rect x="188" y="1468" width="21.5" height="21"/><text x="199" y="1483">12</text><rect x="209.5" y="1468" width="21.5" height="21"/><text x="220" y="1483">13</text><rect x="231" y="1468" width="21.5" height="21"/><text x="242" y="1483">14</text><rect x="252.5" y="1468" width="21.5" height="21"/><text x="263" y="1483">15</text><rect x="274" y="1468" width="21.5" height="21"/><text x="285" y="1483">16</text><rect x="295.5" y="1468" width="21.5" height="21"/><text x="306" y="1483">17</text><rect x="317" y="1468" width="21.5" height="21"/><text x="328" y="1483">18</text><rect x="338.5" y="1468" width="21.5" height="21"/><text x="349" y="1483">19</text>
<rect x="102" y="1489" width="21.5" height="21"/><text x="113" y="1504">20</text><rect x="123.5" y="1489" width="21.5" height="21"/><text x="134" y="1504">21</text><rect x="166.5" y="1489" width="21.5" height="21"/><text x="177" y="1504">22</text><rect x="188" y="1489" width="21.5" height="21"/><text x="199" y="1504">23</text><rect x="231" y="1489" width="21.5" height="21"/><text x="242" y="1504">24</text><rect x="252.5" y="1489" width="21.5" height="21"/><text x="263" y="1504">25</text><rect x="274" y="1489" width="21.5" height="21"/><text x="285" y="1504">26</text><rect x="317" y="1489" width="21.5" height="21"/><text x="328" y="1504">27</text><rect x="338.5" y="1489" width="21.5" height="21"/><text x="349" y="1504">28</text>

<rect x="411" y="1448" width="21.5" height="20"/><text x="422" y="1463">1</text><rect x="432.5" y="1448" width="21.5" height="20"/><text x="443" y="1463">2</text><rect x="454" y="1448" width="21.5" height="20"/><text x="465" y="1463">3</text>
<rect x="487" y="1458" width="20" height="10"/><rect x="552" y="1458" width="20" height="10"/>
<rect x="583" y="1448" width="21.5" height="20"/><text x="594" y="1463">4</text><rect x="604.5" y="1448" width="21.5" height="20"/><text x="615" y="1463">5</text>
<rect x="647.5" y="1448" width="21.5" height="20"/><text x="658" y="1463">6</text><rect x="669" y="1448" width="21.5" height="20"/><text x="680" y="1463">7</text>
<rect x="411" y="1468" width="21.5" height="21"/><text x="422" y="1483">8</text><rect x="432.5" y="1468" width="21.5" height="21"/><text x="443" y="1483">9</text><rect x="454" y="1468" width="21.5" height="21"/><text x="465" y="1483">10</text><rect x="475.5" y="1468" width="21.5" height="21"/><text x="486" y="1483">11</text><rect x="497" y="1468" width="21.5" height="21"/><text x="508" y="1483">12</text><rect x="518.5" y="1468" width="21.5" height="21"/><text x="529" y="1483">13</text><rect x="540" y="1468" width="21.5" height="21"/><text x="551" y="1483">14</text><rect x="561.5" y="1468" width="21.5" height="21"/><text x="572" y="1483">15</text><rect x="583" y="1468" width="21.5" height="21"/><text x="594" y="1483">16</text><rect x="604.5" y="1468" width="21.5" height="21"/><text x="615" y="1483">17</text><rect x="626" y="1468" width="21.5" height="21"/><text x="637" y="1483">18</text><rect x="647.5" y="1468" width="21.5" height="21"/><text x="658" y="1483">19</text><rect x="669" y="1468" width="21.5" height="21"/><text x="680" y="1483">20</text>
<rect x="411" y="1489" width="21.5" height="21"/><text x="422" y="1504">21</text><rect x="432.5" y="1489" width="21.5" height="21"/><text x="443" y="1504">22</text><rect x="475.5" y="1489" width="21.5" height="21"/><text x="486" y="1504">23</text><rect x="497" y="1489" width="21.5" height="21"/><text x="508" y="1504">24</text><rect x="518.5" y="1489" width="21.5" height="21"/><text x="529" y="1504">25</text><rect x="561.5" y="1489" width="21.5" height="21"/><text x="572" y="1504">26</text><rect x="583" y="1489" width="21.5" height="21"/><text x="594" y="1504">27</text><rect x="626" y="1489" width="21.5" height="21"/><text x="637" y="1504">28</text><rect x="647.5" y="1489" width="21.5" height="21"/><text x="658" y="1504">29</text><rect x="669" y="1489" width="21.5" height="21"/><text x="680" y="1504">30</text>

<rect x="744" y="1448" width="21.4" height="20"/><text x="755" y="1463">1</text><rect x="765.4" y="1448" width="21.4" height="20"/><text x="776" y="1463">2</text>
<rect x="808.2" y="1448" width="21.4" height="20"/><text x="819" y="1463">3</text><rect x="829.6" y="1448" width="21.4" height="20"/><text x="840" y="1463">4</text>
<rect x="862" y="1458" width="20" height="10"/><rect x="925" y="1458" width="20" height="10"/>
<rect x="958" y="1448" width="21.4" height="20"/><text x="969" y="1463">5</text><rect x="979.4" y="1448" width="21.4" height="20"/><text x="990" y="1463">6</text>
<rect x="1022.2" y="1448" width="21.4" height="20"/><text x="1033" y="1463">7</text><rect x="1043.6" y="1448" width="21.4" height="20"/><text x="1054" y="1463">8</text>
<rect x="744" y="1468" width="21.4" height="21"/><text x="755" y="1483">9</text><rect x="765.4" y="1468" width="21.4" height="21"/><text x="776" y="1483">10</text><rect x="786.8" y="1468" width="21.4" height="21"/><text x="797" y="1483">11</text><rect x="808.2" y="1468" width="21.4" height="21"/><text x="819" y="1483">12</text><rect x="829.6" y="1468" width="21.4" height="21"/><text x="840" y="1483">13</text><rect x="851" y="1468" width="21.4" height="21"/><text x="862" y="1483">14</text><rect x="872.4" y="1468" width="21.4" height="21"/><text x="883" y="1483">15</text><rect x="893.8" y="1468" width="21.4" height="21"/><text x="904" y="1483">16</text><rect x="915.2" y="1468" width="21.4" height="21"/><text x="926" y="1483">17</text><rect x="936.6" y="1468" width="21.4" height="21"/><text x="947" y="1483">18</text><rect x="958" y="1468" width="21.4" height="21"/><text x="969" y="1483">19</text><rect x="979.4" y="1468" width="21.4" height="21"/><text x="990" y="1483">20</text><rect x="1000.8" y="1468" width="21.4" height="21"/><text x="1011" y="1483">21</text><rect x="1022.2" y="1468" width="21.4" height="21"/><text x="1033" y="1483">22</text><rect x="1043.6" y="1468" width="21.4" height="21"/><text x="1054" y="1483">23</text>
<rect x="744" y="1489" width="21.4" height="21"/><text x="755" y="1504">24</text><rect x="765.4" y="1489" width="21.4" height="21"/><text x="776" y="1504">25</text><rect x="808.2" y="1489" width="21.4" height="21"/><text x="819" y="1504">26</text><rect x="829.6" y="1489" width="21.4" height="21"/><text x="840" y="1504">27</text><rect x="851" y="1489" width="21.4" height="21"/><text x="862" y="1504">28</text><rect x="872.4" y="1489" width="21.4" height="21"/><text x="883" y="1504">29</text><rect x="915.2" y="1489" width="21.4" height="21"/><text x="926" y="1504">30</text><rect x="936.6" y="1489" width="21.4" height="21"/><text x="947" y="1504">31</text><rect x="958" y="1489" width="21.4" height="21"/><text x="969" y="1504">32</text><rect x="979.4" y="1489" width="21.4" height="21"/><text x="990" y="1504">33</text><rect x="1022.2" y="1489" width="21.4" height="21"/><text x="1033" y="1504">34</text><rect x="1043.6" y="1489" width="21.4" height="21"/><text x="1054" y="1504">35</text>
</g>
</svg>
</body></html>
